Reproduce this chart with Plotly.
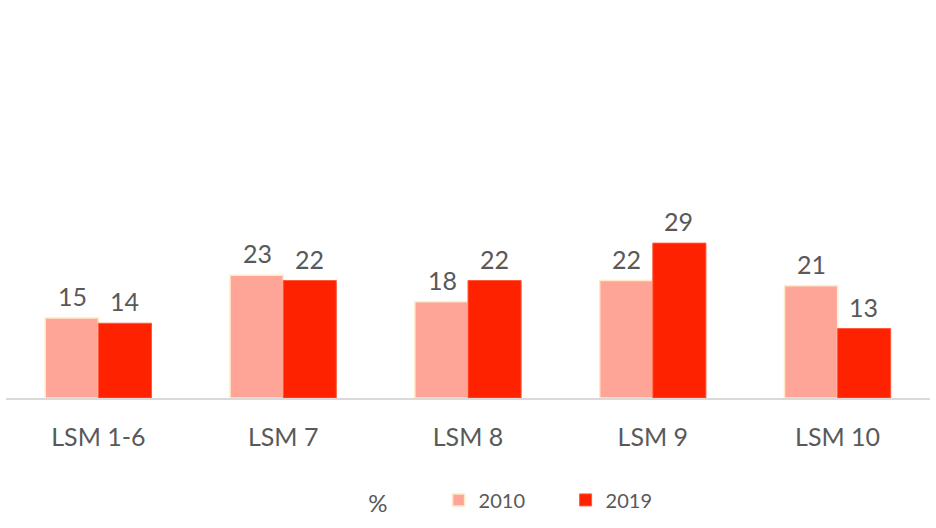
import plotly.graph_objects as go

categories = ["LSM 1-6", "LSM 7", "LSM 8", "LSM 9", "LSM 10"]
values_2010 = [15, 23, 18, 22, 21]
values_2019 = [14, 22, 22, 29, 13]
series_names = ["2010", "2019"]

FONT = "Lato"
GREY = "#595959"

fig = go.Figure()
fig.add_trace(go.Bar(
    name=series_names[0], x=categories, y=values_2010,
    marker=dict(color="#FFA597", line=dict(color="#FFE9C6", width=1.5)),
))
fig.add_trace(go.Bar(
    name=series_names[1], x=categories, y=values_2019,
    marker=dict(color="#FF2200", line=dict(color="#FF5A3C", width=1)),
))

# value labels above each bar
annotations = []
for vals, shift in ((values_2010, -26), (values_2019, 26)):
    for c, v in zip(categories, vals):
        annotations.append(dict(
            x=c, y=v, xref="x", yref="y", text=str(v), showarrow=False,
            xshift=shift, yshift=5, yanchor="bottom",
            font=dict(family=FONT, size=25, color=GREY),
        ))

fig.update_layout(
    width=936, height=528,
    margin=dict(l=6, r=6, t=22, b=128),
    paper_bgcolor="white", plot_bgcolor="white",
    barmode="group", bargap=0.425, bargroupgap=0,
    font=dict(family=FONT, size=24, color=GREY),
    annotations=annotations,
    xaxis=dict(
        showline=True, linecolor="#D9D9D9", linewidth=1.5,
        ticks="", tickfont=dict(family=FONT, size=25, color=GREY),
        ticklabelstandoff=16,
    ),
    yaxis=dict(visible=False, range=[0, 70.4]),
    showlegend=True,
    legend=dict(
        orientation="h", x=0.39, xanchor="left", y=-0.275, yanchor="middle",
        title=dict(text="%       ", side="left",
                   font=dict(family=FONT, size=24, color=GREY)),
        font=dict(family=FONT, size=20, color=GREY),
        itemwidth=30, entrywidth=82, entrywidthmode="pixels",
        traceorder="normal",
    ),
)

fig.write_html("out.html")
